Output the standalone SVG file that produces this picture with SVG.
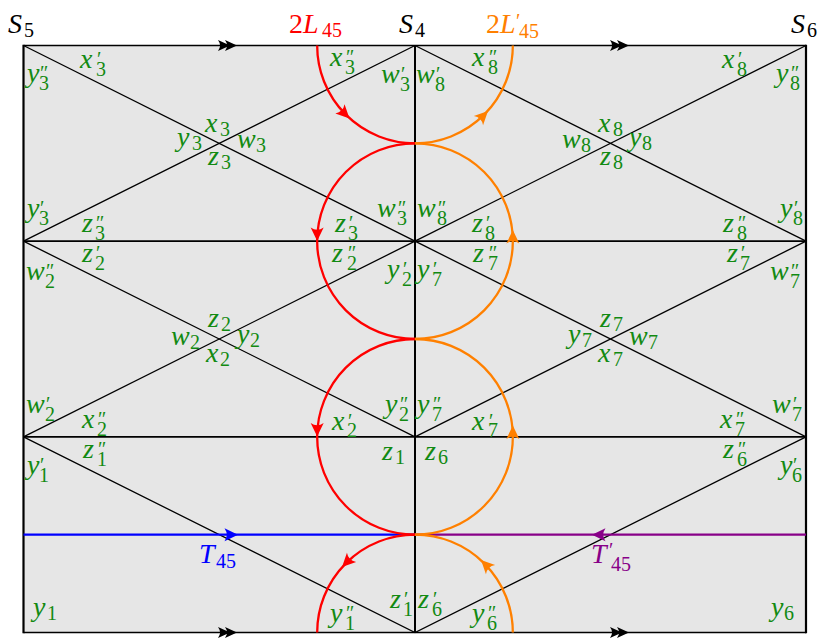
<svg xmlns="http://www.w3.org/2000/svg" xmlns:xlink="http://www.w3.org/1999/xlink" width="830" height="640" viewBox="0 0 830 640">
<style>
.t{font-family:"Liberation Serif","Times New Roman",serif;font-style:italic;font-size:28px}
.g{fill:#128a12}
.k{fill:#000}
.s{font-style:normal;font-size:20px}
.u{font-style:normal}
.ln{stroke:#000;stroke-width:1.3;fill:none}
.hz{stroke:#000;stroke-width:1.6;fill:none}
.cr{fill:none;stroke-width:2.3}
</style>
<defs>
<path id="ah" d="M0,0 L-13.5,-6.5 Q-9,0 -13.5,6.5 Z"/>
<g id="dbl"><path d="M-7,0 L-19,-5.5 Q-15,0 -19,5.5 Z"/><path d="M0,0 L-12,-5.5 Q-8,0 -12,5.5 Z"/></g>
</defs>
<rect x="23.5" y="45.5" width="782.5" height="587" fill="#e6e6e6"/>
<g id="connectors">
<g class="ln">
<line x1="23.5" y1="45.5" x2="415" y2="241.17"/>
<line x1="23.5" y1="241.17" x2="415" y2="45.5"/>
<line x1="415" y1="45.5" x2="806" y2="241.17"/>
<line x1="415" y1="241.17" x2="806" y2="45.5"/>
<line x1="23.5" y1="241.17" x2="415" y2="436.83"/>
<line x1="23.5" y1="436.83" x2="415" y2="241.17"/>
<line x1="415" y1="241.17" x2="806" y2="436.83"/>
<line x1="415" y1="436.83" x2="806" y2="241.17"/>
<polyline points="23.5,436.83 415,632.5 806,436.83"/>
</g>
<g class="hz">
<line x1="23.5" y1="241.17" x2="806" y2="241.17"/>
<line x1="23.5" y1="436.83" x2="806" y2="436.83"/>
<line x1="23.5" y1="45.5" x2="806" y2="45.5"/>
<line x1="23.5" y1="632.5" x2="806" y2="632.5"/>
</g>
<line x1="23.5" y1="44.7" x2="23.5" y2="633.3" stroke="#000" stroke-width="2.2"/>
<line x1="806" y1="44.7" x2="806" y2="633.3" stroke="#000" stroke-width="2.2"/>
<line x1="415" y1="45.5" x2="415" y2="632.5" stroke="#000" stroke-width="2"/>
<use xlink:href="#dbl" transform="translate(237,45.5)"/>
<use xlink:href="#dbl" transform="translate(629,45.5)"/>
<use xlink:href="#dbl" transform="translate(237,632.5)"/>
<use xlink:href="#dbl" transform="translate(629,632.5)"/>
<g id="t45">
<line x1="23.5" y1="534.67" x2="415" y2="534.67" stroke="#0000ff" stroke-width="2.3"/>
<use xlink:href="#ah" fill="#0000ff" transform="translate(238,534.67)"/>
</g>
<g id="t45p">
<line x1="415" y1="534.67" x2="806" y2="534.67" stroke="#880088" stroke-width="2.3"/>
<use xlink:href="#ah" fill="#880088" transform="translate(592,534.67) rotate(180)"/>
</g>
<g id="l45" stroke="#ff0000" class="cr">
<path d="M317.17,45.5 A97.83,97.83 0 0 0 415,143.33"/>
<path d="M415,143.33 A97.83,97.83 0 0 0 415,339"/>
<path d="M415,339 A97.83,97.83 0 0 0 415,534.67"/>
<path d="M415,534.67 A97.83,97.83 0 0 0 317.17,632.5"/>
</g>
<g fill="#ff0000">
<use xlink:href="#ah" transform="translate(349.5,118.5) rotate(45)"/>
<use xlink:href="#ah" transform="translate(317.17,241) rotate(90)"/>
<use xlink:href="#ah" transform="translate(317.17,436.5) rotate(90)"/>
<use xlink:href="#ah" transform="translate(342,567) rotate(135)"/>
</g>
<g id="l45p" stroke="#ff8000" class="cr">
<path d="M415,143.33 A97.83,97.83 0 0 0 512.83,45.5"/>
<path d="M415,339 A97.83,97.83 0 0 0 415,143.33"/>
<path d="M415,534.67 A97.83,97.83 0 0 0 415,339"/>
<path d="M512.83,632.5 A97.83,97.83 0 0 0 415,534.67"/>
</g>
<g fill="#ff8000">
<use xlink:href="#ah" transform="translate(488,111) rotate(-45)"/>
<use xlink:href="#ah" transform="translate(512.83,230) rotate(-90)"/>
<use xlink:href="#ah" transform="translate(512.83,425.5) rotate(-90)"/>
<use xlink:href="#ah" transform="translate(481,560) rotate(-135)"/>
</g>
</g>
<g id="titles" class="t">
<text class="k" x="8" y="33">S<tspan class="s" x="24" y="37">5</tspan></text>
<text fill="#ff0000" x="289" y="33"><tspan class="u">2</tspan>L<tspan class="s" x="322" y="37">45</tspan></text>
<text class="k" x="399" y="33">S<tspan class="s" x="415" y="37">4</tspan></text>
<text fill="#ff8000" x="486" y="33"><tspan class="u">2</tspan>L<tspan class="s" x="516 519" y="28 38">′45</tspan></text>
<text class="k" x="791" y="33">S<tspan class="s" x="807" y="37">6</tspan></text>
<text fill="#0000ff" x="199" y="563">T<tspan class="s" x="216" y="568">45</tspan></text>
<text fill="#880088" x="591" y="563">T<tspan class="s" x="609 611" y="557 571">′45</tspan></text>
</g>
<g id="labels-top" class="t g">
<text x="80" y="68">x<tspan class="s" x="97 96" y="66 76">′3</tspan></text>
<text x="27" y="82">y<tspan class="s" x="40 39" y="80 90">″3</tspan></text>
<text x="205" y="132">x<tspan class="s" x="220" y="136">3</tspan></text>
<text x="177" y="146">y<tspan class="s" x="192" y="150">3</tspan></text>
<text x="237" y="148">w<tspan class="s" x="256" y="152">3</tspan></text>
<text x="208" y="165">z<tspan class="s" x="221" y="169">3</tspan></text>
<text x="330" y="66">x<tspan class="s" x="346 345" y="64 74">″3</tspan></text>
<text x="381" y="83">w<tspan class="s" x="401 400" y="81 91">′3</tspan></text>
<text x="416" y="83">w<tspan class="s" x="436 435" y="81 91">′8</tspan></text>
<text x="472" y="66">x<tspan class="s" x="489 488" y="64 74">″8</tspan></text>
<text x="722" y="68">x<tspan class="s" x="738 737" y="66 76">′8</tspan></text>
<text x="776" y="82">y<tspan class="s" x="791 790" y="80 90">″8</tspan></text>
<text x="598" y="132">x<tspan class="s" x="613" y="136">8</tspan></text>
<text x="562" y="148">w<tspan class="s" x="581" y="152">8</tspan></text>
<text x="629" y="146">y<tspan class="s" x="642" y="150">8</tspan></text>
<text x="600" y="165">z<tspan class="s" x="613" y="169">8</tspan></text>
</g>
<g id="labels-mid1" class="t g">
<text x="27" y="217">y<tspan class="s" x="40 39" y="215 225">′3</tspan></text>
<text x="82" y="232">z<tspan class="s" x="96 95" y="230 240">″3</tspan></text>
<text x="82" y="262">z<tspan class="s" x="96 95" y="260 270">′2</tspan></text>
<text x="26" y="280">w<tspan class="s" x="46 45" y="278 288">″2</tspan></text>
<text x="377" y="217">w<tspan class="s" x="398 397" y="215 225">″3</tspan></text>
<text x="417" y="217">w<tspan class="s" x="438 437" y="215 225">″8</tspan></text>
<text x="335" y="232">z<tspan class="s" x="349 348" y="230 240">′3</tspan></text>
<text x="332" y="262">z<tspan class="s" x="348 347" y="260 270">″2</tspan></text>
<text x="387" y="278">y<tspan class="s" x="403 402" y="276 286">′2</tspan></text>
<text x="417" y="278">y<tspan class="s" x="433 432" y="276 286">′7</tspan></text>
<text x="472" y="232">z<tspan class="s" x="486 485" y="230 240">′8</tspan></text>
<text x="473" y="262">z<tspan class="s" x="489 488" y="260 270">″7</tspan></text>
<text x="780" y="217">y<tspan class="s" x="794 793" y="215 225">′8</tspan></text>
<text x="723" y="232">z<tspan class="s" x="738 737" y="230 240">″8</tspan></text>
<text x="727" y="262">z<tspan class="s" x="741 740" y="260 270">′7</tspan></text>
<text x="770" y="280">w<tspan class="s" x="791 790" y="278 288">″7</tspan></text>
</g>
<g id="labels-cross2" class="t g">
<text x="208" y="327">z<tspan class="s" x="221" y="331">2</tspan></text>
<text x="171" y="345">w<tspan class="s" x="190" y="349">2</tspan></text>
<text x="237" y="343">y<tspan class="s" x="250" y="347">2</tspan></text>
<text x="206" y="362">x<tspan class="s" x="220" y="366">2</tspan></text>
<text x="600" y="327">z<tspan class="s" x="613" y="331">7</tspan></text>
<text x="568" y="343">y<tspan class="s" x="582" y="347">7</tspan></text>
<text x="629" y="345">w<tspan class="s" x="648" y="349">7</tspan></text>
<text x="598" y="362">x<tspan class="s" x="613" y="366">7</tspan></text>
</g>
<g id="labels-mid2" class="t g">
<text x="26" y="413">w<tspan class="s" x="46 45" y="411 421">′2</tspan></text>
<text x="82" y="428">x<tspan class="s" x="98 97" y="426 436">″2</tspan></text>
<text x="83" y="458">z<tspan class="s" x="98 97" y="456 466">″1</tspan></text>
<text x="27" y="474">y<tspan class="s" x="40 39" y="472 482">′1</tspan></text>
<text x="385" y="413">y<tspan class="s" x="400 399" y="411 421">″2</tspan></text>
<text x="417" y="413">y<tspan class="s" x="433 432" y="411 421">″7</tspan></text>
<text x="332" y="430">x<tspan class="s" x="348 347" y="428 437">′2</tspan></text>
<text x="472" y="430">x<tspan class="s" x="489 488" y="428 437">′7</tspan></text>
<text x="382" y="460">z<tspan class="s" x="395" y="464">1</tspan></text>
<text x="425" y="460">z<tspan class="s" x="438" y="464">6</tspan></text>
<text x="772" y="413">w<tspan class="s" x="793 792" y="411 421">′7</tspan></text>
<text x="720" y="428">x<tspan class="s" x="736 735" y="426 436">″7</tspan></text>
<text x="723" y="458">z<tspan class="s" x="738 737" y="456 466">″6</tspan></text>
<text x="780" y="474">y<tspan class="s" x="793 792" y="472 482">′6</tspan></text>
</g>
<g id="labels-bottom" class="t g">
<text x="33" y="616">y<tspan class="s" x="47" y="620">1</tspan></text>
<text x="771" y="616">y<tspan class="s" x="784" y="620">6</tspan></text>
<text x="390" y="608">z<tspan class="s" x="404 403" y="606 616">′1</tspan></text>
<text x="418" y="608">z<tspan class="s" x="433 432" y="606 616">′6</tspan></text>
<text x="330" y="622">y<tspan class="s" x="346 345" y="620 630">″1</tspan></text>
<text x="472" y="622">y<tspan class="s" x="488 487" y="620 630">″6</tspan></text>
</g>
</svg>
